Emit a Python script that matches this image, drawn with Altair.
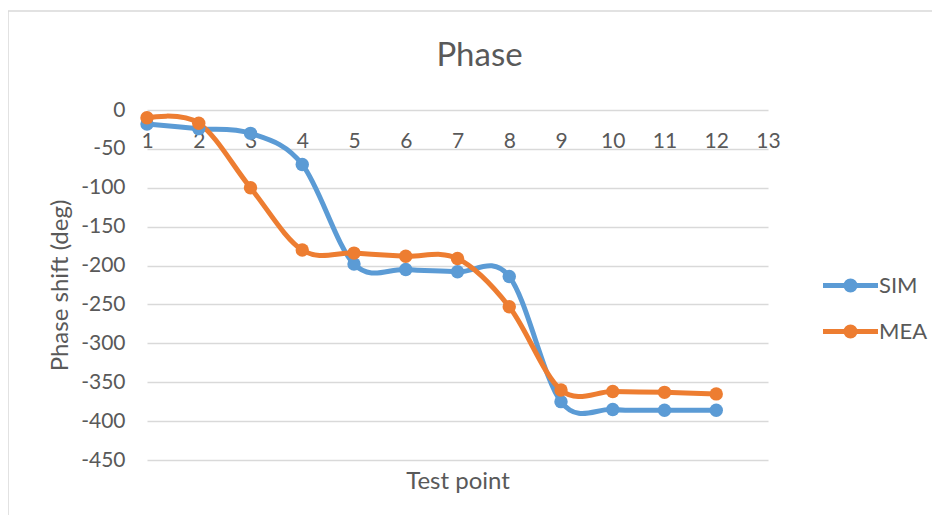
import altair as alt
import pandas as pd

test_points = list(range(1, 13))
sim = [-18, -24, -30, -70, -198, -205, -208, -214, -375, -385, -386, -386]
mea = [-10, -17, -100, -180, -184, -188, -191, -253, -360, -362, -363, -365]
series_names = ["SIM", "MEA"]
series_colors = ["#5B9BD5", "#ED7D31"]
y_ticks = list(range(0, -451, -50))
x_ticks = list(range(1, 14))

df = pd.DataFrame({
    "point": test_points * 2,
    "value": sim + mea,
    "series": ["SIM"] * len(sim) + ["MEA"] * len(mea),
})

TXT = "#595959"
GRID = "#d9d9d9"
sym_path = "M-2,0H2M0.33,0A0.33,0.33 0 1,1 -0.33,0A0.33,0.33 0 1,1 0.33,0Z"

legend_props = dict(
    title=None, orient="none", legendX=687, legendY=159, padding=0,
    symbolType=sym_path, symbolSize=756, symbolStrokeWidth=5,
    labelFontSize=22, labelColor=TXT, labelOffset=12, rowPadding=14,
)

xscale = alt.Scale(domain=[1, 13], nice=False, zero=False)
yscale = alt.Scale(domain=[-450, 0], nice=False, zero=False)

y_axis = alt.Axis(
    values=y_ticks, ticks=False, domain=False, gridColor=GRID, gridWidth=1.5,
    labelPadding=22, labelExpr="datum.value + ''", labelFontSize=21, labelColor=TXT,
    title="Phase shift (deg)", titleX=-87, titleY=175, titleAngle=-90,
    titleAlign="center", titleBaseline="middle", titleFontWeight="normal",
    titleFontSize=24, titleColor=TXT,
)

x_top = alt.Axis(
    orient="top", values=x_ticks, ticks=False, domain=False, grid=False,
    labelPadding=-31, labelBaseline="middle", labelFontSize=21, labelColor=TXT,
    labelFlush=False, title=None,
)
x_bottom = alt.Axis(
    orient="bottom", values=x_ticks, ticks=False, domain=False, grid=False,
    labels=False, title="Test point", titleFontSize=24, titleColor=TXT,
    titleFontWeight="normal", titleY=21, titleBaseline="middle",
)

base = alt.Chart(df)

lines = base.mark_line(interpolate="cardinal", strokeWidth=5).encode(
    x=alt.X("point:Q", scale=xscale, axis=x_top),
    y=alt.Y("value:Q", scale=yscale, axis=y_axis),
    color=alt.Color("series:N", scale=alt.Scale(domain=series_names, range=series_colors),
                    legend=alt.Legend(**legend_props)),
)

points = base.mark_circle(size=180, opacity=1).encode(
    x=alt.X("point:Q", scale=xscale, axis=x_bottom),
    y=alt.Y("value:Q", scale=yscale, axis=y_axis),
    fill=alt.Fill("series:N", scale=alt.Scale(domain=series_names, range=series_colors),
                  legend=alt.Legend(**legend_props)),
)

frame = alt.Chart(alt.Data(values=[{}])).mark_rect(
    fill="transparent", stroke=GRID, strokeWidth=1.5
).encode(x=alt.value(-139), x2=alt.value(900), y=alt.value(-99), y2=alt.value(460))

chart = alt.layer(frame, lines, points).resolve_axis(x="independent").properties(
    width=621, height=350,
    autosize=alt.AutoSizeParams(type="none"),
    padding={"left": 139, "top": 102, "right": 164, "bottom": 55},
    title=alt.Title("Phase", fontSize=33, color=TXT, fontWeight="normal",
                    anchor="middle", dx=22, offset=-79, baseline="middle"),
).configure(font="Lato").configure_view(strokeWidth=0)

chart.save("out.html", embed_options={"renderer": "svg", "actions": False})
